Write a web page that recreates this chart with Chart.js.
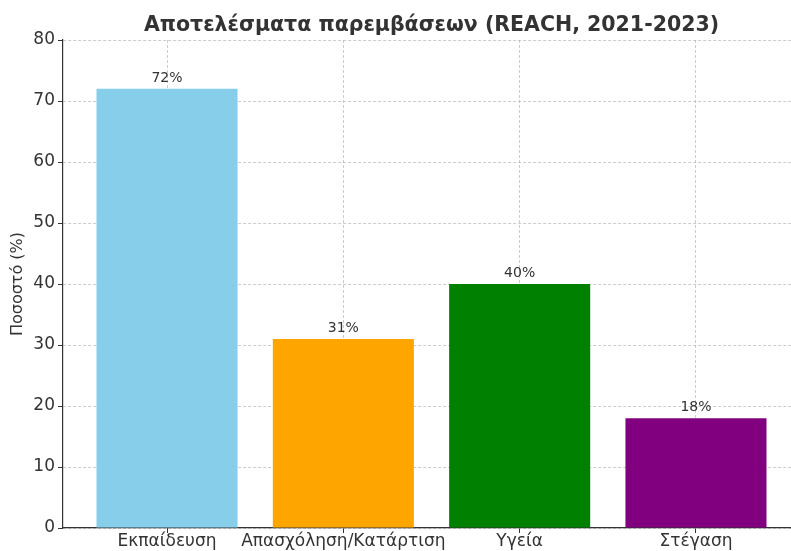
<!DOCTYPE html>
<html>
<head>
<meta charset="utf-8">
<script src="https://cdn.jsdelivr.net/npm/chart.js@4/dist/chart.umd.min.js"></script>
<style>
  html, body { margin: 0; padding: 0; background: #fff; overflow: hidden; }
</style>
</head>
<body>
<canvas id="chart" width="820" height="551"></canvas>
<script>
var categories = ['Εκπαίδευση', 'Απασχόληση/Κατάρτιση', 'Υγεία', 'Στέγαση'];
var values = [72, 31, 40, 18];
var colors = ['#87CEEB', '#FFA500', '#008000', '#800080'];
var yTicks = [0, 10, 20, 30, 40, 50, 60, 70, 80];

var titleText = 'Αποτελέσματα παρεμβάσεων (REACH, 2021-2023)';
var yLabel = 'Ποσοστό (%)';
var ink = '#333333';
var font = 'DejaVu Sans';

// title, y label and the value labels over the bars
var decorations = {
  id: 'decorations',
  afterDatasetsDraw: function (chart) {
    var ctx = chart.ctx,
        area = chart.chartArea,
        y = chart.scales.y,
        meta = chart.getDatasetMeta(0);

    ctx.save();
    ctx.fillStyle = ink;
    ctx.textAlign = 'center';

    ctx.font = '14px "' + font + '"';
    ctx.textBaseline = 'alphabetic';
    meta.data.forEach(function (bar, i) {
      ctx.fillText(values[i] + '%', bar.x, y.getPixelForValue(values[i]) - 7);
    });

    ctx.font = 'bold 20.5px "' + font + '"';
    ctx.fillText(titleText, (area.left + area.right) / 2, 31);

    ctx.font = '16px "' + font + '"';
    ctx.textBaseline = 'middle';
    ctx.translate(18, (area.top + area.bottom) / 2);
    ctx.rotate(-Math.PI / 2);
    ctx.fillText(yLabel, 0, 0);
    ctx.restore();
  }
};

var gridLook = {
  color: 'rgba(170,170,170,0.6)',
  lineWidth: 1,
  offset: false,
  tickColor: ink,
  tickLength: 5
};

new Chart(document.getElementById('chart'), {
  type: 'bar',
  data: {
    datasets: [{
      data: values.map(function (v, i) { return { x: i, y: v }; }),
      backgroundColor: colors,
      borderWidth: 0,
      barPercentage: 0.8,
      categoryPercentage: 1.0
    }]
  },
  options: {
    responsive: false,
    animation: false,
    devicePixelRatio: 1,
    layout: { padding: { top: 40, right: 20, left: 0, bottom: 0 } },
    plugins: {
      legend: { display: false },
      tooltip: { enabled: false }
    },
    scales: {
      x: {
        type: 'linear',
        min: -0.59,
        max: 3.59,
        offset: false,
        bounds: 'data',
        z: 1,
        grid: gridLook,
        border: { color: ink, width: 1.2, dash: [3, 2] },
        afterBuildTicks: function (scale) {
          scale.ticks = categories.map(function (c, i) { return { value: i }; });
        },
        afterFit: function (scale) { scale.height = 23; },
        ticks: {
          autoSkip: false,
          maxRotation: 0,
          padding: -2,
          color: ink,
          font: { family: font, size: 17 },
          callback: function (v) { return categories[v]; }
        }
      },
      y: {
        min: 0,
        max: 80,
        z: 1,
        grid: gridLook,
        border: { color: ink, width: 1.2, dash: [3, 2] },
        afterBuildTicks: function (scale) {
          scale.ticks = yTicks.map(function (v) { return { value: v }; });
        },
        afterFit: function (scale) { scale.width = 63; },
        ticks: {
          padding: 3,
          color: ink,
          font: { family: font, size: 17 }
        }
      }
    }
  },
  plugins: [decorations]
});
</script>
</body>
</html>
